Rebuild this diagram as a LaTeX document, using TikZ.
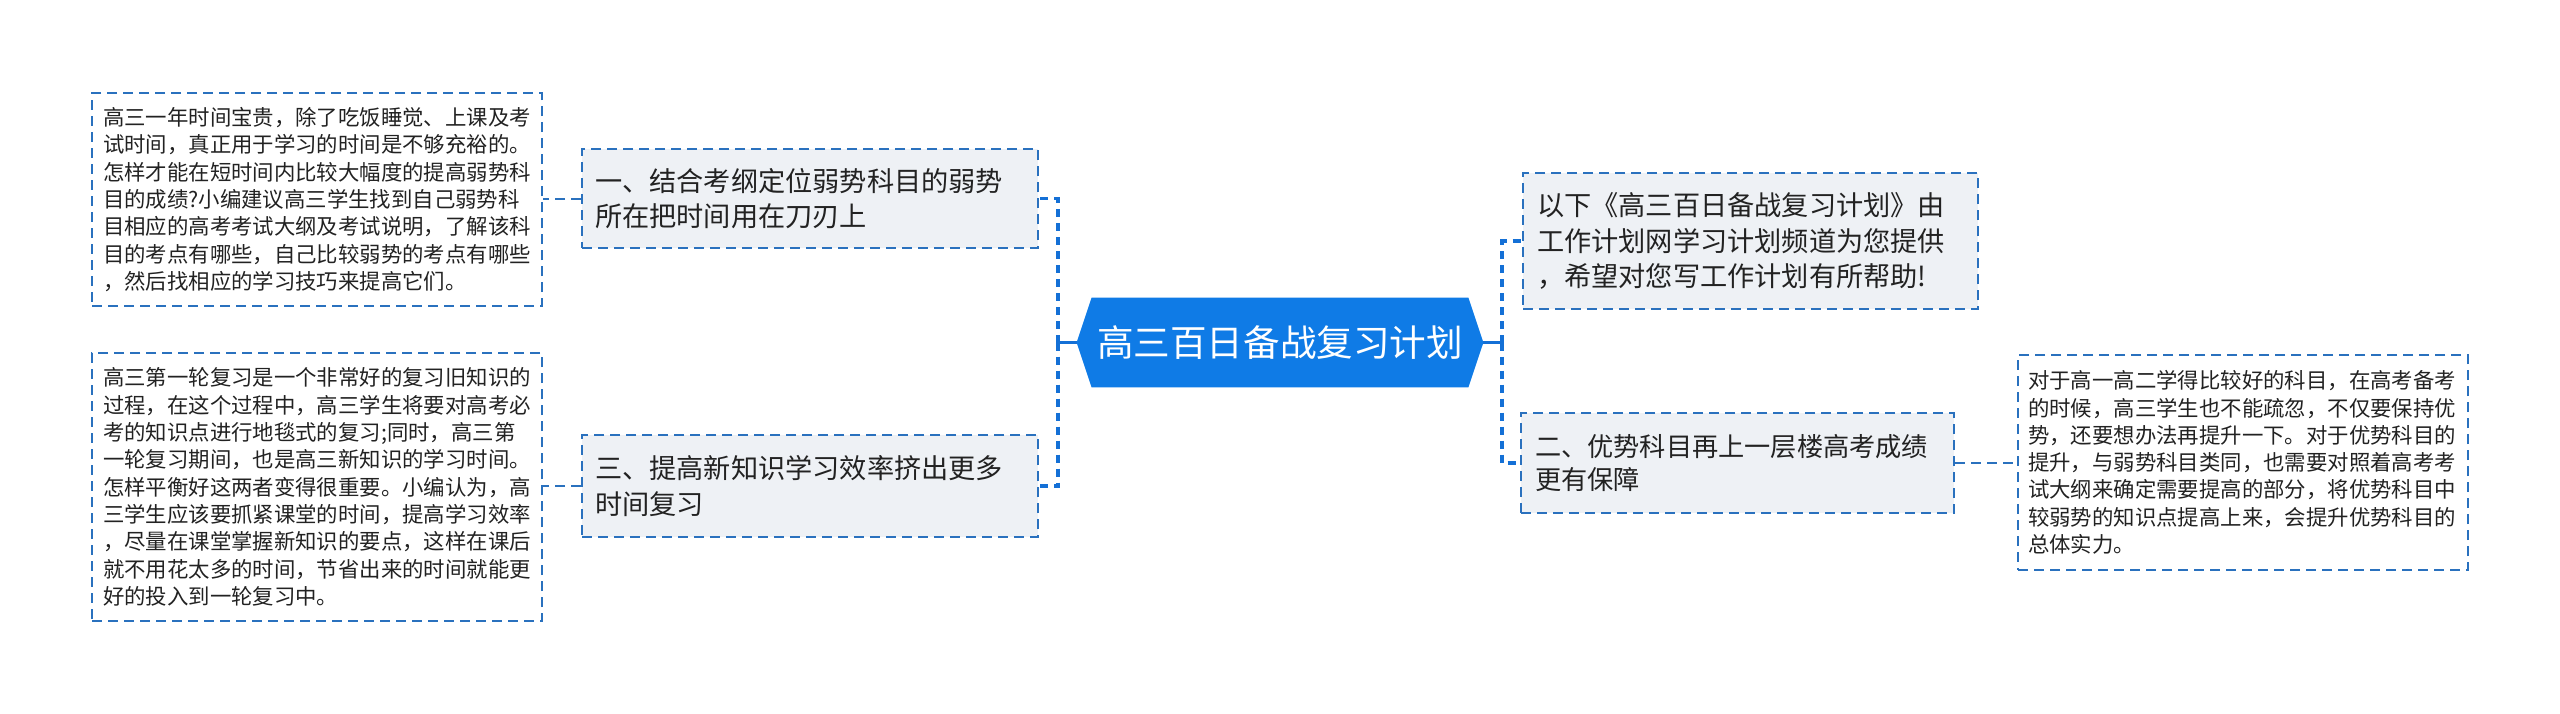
\documentclass[tikz,border=0pt]{standalone}
\usepackage{fontspec}
\setmainfont{Noto Sans CJK SC}
\usetikzlibrary{backgrounds}
\definecolor{boxblue}{HTML}{2A71BE}
\definecolor{linkblue}{HTML}{1470D6}
\definecolor{rootblue}{HTML}{0F7BE6}
\definecolor{mainfill}{HTML}{EEF1F5}
\definecolor{textc}{HTML}{222222}
\tikzset{
  dbox/.style={draw=boxblue, line width=1pt, dash pattern=on 5pt off 3pt, text=textc, align=left, anchor=center, inner ysep=0pt},
  leafbox/.style={dbox, fill=white, font=\fontsize{10.7pt}{13.65pt}\selectfont},
  mainbox/.style={dbox, fill=mainfill, font=\fontsize{13.6pt}{17.75pt}\selectfont},
  branch/.style={draw=linkblue, line width=1.8pt, dash pattern=on 4pt off 3pt},
  stem/.style={draw=linkblue, line width=1.6pt},
  leaflink/.style={draw=boxblue, line width=1pt, dash pattern=on 5pt off 3pt},
  rootnode/.style={font=\fontsize{18.3pt}{22pt}\selectfont, text=white, minimum width=188pt, minimum height=44.5pt, inner sep=0pt},
}
\begin{document}
\begin{tikzpicture}[x=0.5pt,y=-0.5pt]
\useasboundingbox (0,0) rectangle (2560,713);

% root
\node[rootnode] (root) at (1280,342.5) {高三百日备战复习计划};
\coordinate (rootL) at ([xshift=-7.5pt]root.west);
\coordinate (rootR) at ([xshift=7.5pt]root.east);
\begin{scope}[on background layer]
\fill[rootblue] (root.north west) -- (root.north east) -- (rootR) -- (root.south east) -- (root.south west) -- (rootL) -- cycle;
\end{scope}

% left main boxes
\node[mainbox, text width=215pt, inner xsep=6.5pt, minimum height=49.5pt] (m1) at (810,198.5)
 {一、结合考纲定位弱势科目的弱势\\所在把时间用在刀刃上};
\node[mainbox, text width=215pt, inner xsep=6.5pt, minimum height=51pt] (m3) at (810,486)
 {三、提高新知识学习效率挤出更多\\时间复习};

% left leaves
\node[leafbox, text width=214pt, inner xsep=5.5pt, minimum height=106.5pt] (l1) at (317,199.5)
 {高三一年时间宝贵，除了吃饭睡觉、上课及考\\试时间，真正用于学习的时间是不够充裕的。\\怎样才能在短时间内比较大幅度的提高弱势科\\目的成绩?小编建议高三学生找到自己弱势科\\目相应的高考考试大纲及考试说明，了解该科\\目的考点有哪些，自己比较弱势的考点有哪些\\，然后找相应的学习技巧来提高它们。};
\node[leafbox, text width=214pt, inner xsep=5.5pt, minimum height=134pt] (l3) at (317,487)
 {高三第一轮复习是一个非常好的复习旧知识的\\过程，在这个过程中，高三学生将要对高考必\\考的知识点进行地毯式的复习;同时，高三第\\一轮复习期间，也是高三新知识的学习时间。\\怎样平衡好这两者变得很重要。小编认为，高\\三学生应该要抓紧课堂的时间，提高学习效率\\，尽量在课堂掌握新知识的要点，这样在课后\\就不用花太多的时间，节省出来的时间就能更\\好的投入到一轮复习中。};

% right main boxes
\node[mainbox, text width=213.5pt, inner xsep=7pt, minimum height=68pt] (r1) at (1750.5,241)
 {以下《高三百日备战复习计划》由\\工作计划网学习计划频道为您提供\\，希望对您写工作计划有所帮助!};
\node[mainbox, font=\fontsize{13.1pt}{16.5pt}\selectfont, text width=202.5pt, inner xsep=7pt, minimum height=50pt] (r2) at (1737.5,463)
 {二、优势科目再上一层楼高考成绩\\更有保障};

% right leaf
\node[leafbox, text width=215pt, inner xsep=5pt, minimum height=107.5pt] (rl) at (2243,462.5)
 {对于高一高二学得比较好的科目，在高考备考\\的时候，高三学生也不能疏忽，不仅要保持优\\势，还要想办法再提升一下。对于优势科目的\\提升，与弱势科目类同，也需要对照着高考考\\试大纲来确定需要提高的部分，将优势科目中\\较弱势的知识点提高上来，会提升优势科目的\\总体实力。};

% junctions
\coordinate (lj) at (1058,342.5);
\coordinate (rj) at (1502,342.5);

% connectors
\draw[stem] (rootL) -- (lj);
\draw[branch] (lj) |- (m1.east);
\draw[branch] (lj) |- (m3.east);
\draw[stem] (rootR) -- (rj);
\draw[branch] (rj) |- (r1.west);
\draw[branch] (rj) |- (r2.west);
\draw[leaflink] (m1.west) -- (m1.west -| l1.east);
\draw[leaflink] (m3.west) -- (m3.west -| l3.east);
\draw[leaflink] (r2.east) -- (r2.east -| rl.west);
\end{tikzpicture}
\end{document}
